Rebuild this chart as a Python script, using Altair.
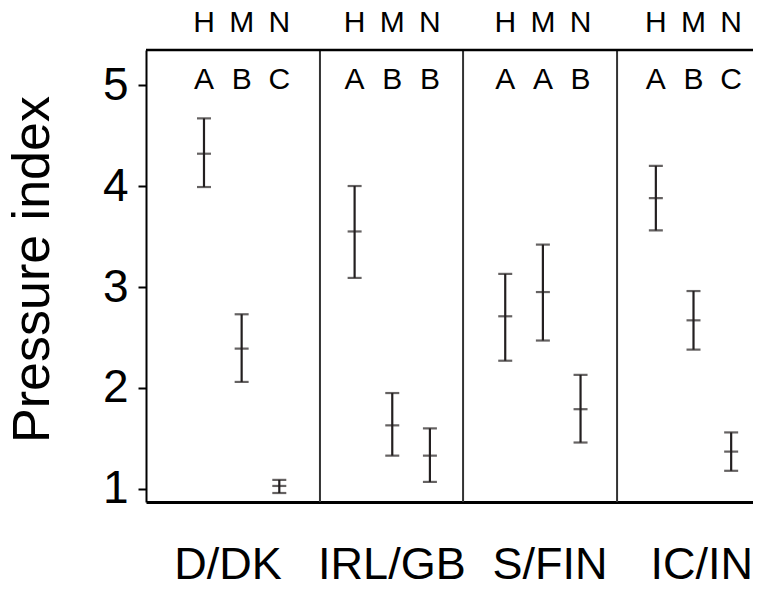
import altair as alt
import pandas as pd

groups = ["D/DK", "IRL/GB", "S/FIN", "IC/IN"]
levels = ["H", "M", "N"]
means = [[4.32, 2.39, 1.03], [3.55, 1.63, 1.33], [2.71, 2.95, 1.79], [3.88, 2.67, 1.37]]
lower = [[3.99, 2.06, 0.96], [3.09, 1.33, 1.07], [2.27, 2.47, 1.46], [3.56, 2.38, 1.18]]
upper = [[4.67, 2.73, 1.09], [4.00, 1.95, 1.60], [3.13, 3.42, 2.13], [4.20, 2.96, 1.56]]
letters = [["A", "B", "C"], ["A", "B", "B"], ["A", "A", "B"], ["A", "B", "C"]]
dividers = [4.58, 8.38, 12.47]
group_label_x = [2.14, 6.49, 10.69, 14.72]
y_ticks = [1, 2, 3, 4, 5]

rows = []
for i, g in enumerate(groups):
    for j, lv in enumerate(levels):
        rows.append(dict(group=g, level=lv, x=4 * i + j + 1.5,
                         mean=means[i][j], lo=lower[i][j], hi=upper[i][j],
                         letter=letters[i][j]))
df = pd.DataFrame(rows)
div_df = pd.DataFrame({"d": dividers})
lab_df = pd.DataFrame({"group": groups, "gx": group_label_x})
one = pd.DataFrame({"a": [0]})

FONT = "Liberation Sans"
INK = "#231f20"
xs = alt.Scale(domain=[-0.04, 16.08], nice=False, zero=False)
ys = alt.Scale(domain=[0.871, 5.347], nice=False, zero=False)

x_axis = alt.Axis(labels=False, ticks=False, grid=False, title=None,
                  domainWidth=3, domainColor="black")
y_axis = alt.Axis(
    values=y_ticks, format="d", title="Pressure index", titleFontSize=52,
    titleFontWeight="normal", titleColor="black", titleFont=FONT,
    titleX=-114, titleY=219, titleAngle=270, titleBaseline="middle", titleAlign="center",
    labelFontSize=46, labelColor="black", labelFont=FONT, labelPadding=10,
    tickSize=8, tickWidth=2, tickColor="black", domainColor="black", domainWidth=2, grid=False)


def X(field):
    return alt.X(field, type="quantitative", scale=xs, axis=x_axis, title=None)


def Y(field):
    return alt.Y(field, type="quantitative", scale=ys, axis=y_axis, title="Pressure index")


base = alt.Chart(df)
bars = base.mark_rule(color=INK, strokeWidth=2.2).encode(x=X("x"), y=Y("lo"), y2="hi:Q")
cap_lo = base.mark_tick(orient="horizontal", size=14, thickness=2.2, color=INK).encode(
    x=X("x"), y=Y("lo"))
cap_hi = base.mark_tick(orient="horizontal", size=14, thickness=2.2, color=INK).encode(
    x=X("x"), y=Y("hi"))
mid = base.mark_tick(orient="horizontal", size=14, thickness=2.2, color=INK).encode(
    x=X("x"), y=Y("mean"))

divs = alt.Chart(div_df).mark_rule(color="#333333", strokeWidth=2).encode(x=X("d"))
top = alt.Chart(one).mark_rule(color="black", strokeWidth=2.5).encode(y=alt.value(0))

let_txt = base.mark_text(font=FONT, fontSize=30, baseline="alphabetic", align="center",
                         color="black").encode(x=X("x"), y=alt.value(39), text="letter:N")
lvl_txt = base.mark_text(font=FONT, fontSize=30, baseline="alphabetic", align="center",
                         color="black").encode(x=X("x"), y=alt.value(-18), text="level:N")
grp_txt = alt.Chart(lab_df).mark_text(font=FONT, fontSize=45, baseline="alphabetic",
                                      align="center", color="black").encode(
    x=X("gx"), y=alt.value(529), text="group:N")

chart = alt.layer(bars, cap_lo, cap_hi, mid, divs, top, let_txt, lvl_txt, grp_txt).properties(
    width=607, height=452,
    padding={"left": 138, "top": 42, "right": 0, "bottom": 80},
    autosize=alt.AutoSizeParams(type="none"),
    background="white",
).configure_view(stroke=None)

chart.save("out.html", embed_options={"renderer": "svg", "actions": False})
